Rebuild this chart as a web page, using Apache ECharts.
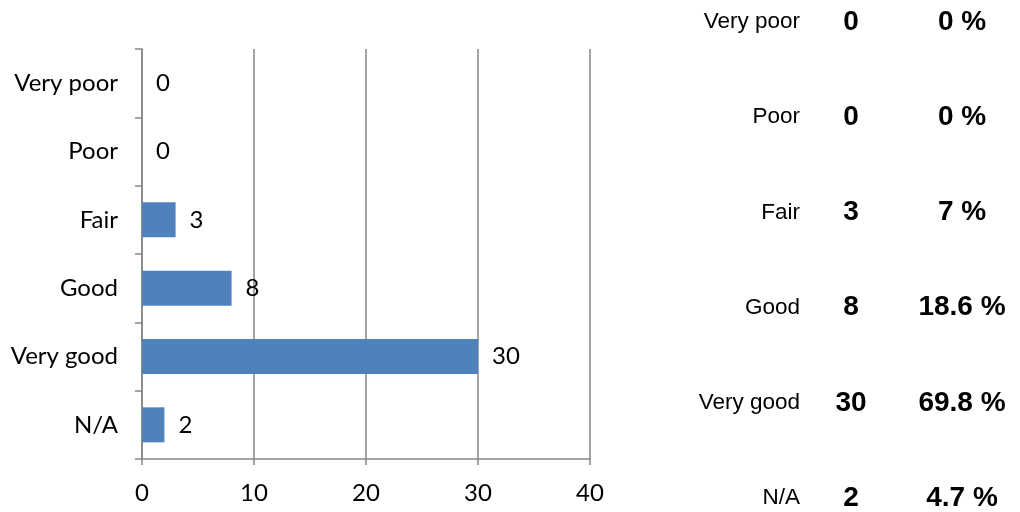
<!DOCTYPE html>
<html>
<head>
<meta charset="utf-8">
<script src="https://cdn.jsdelivr.net/npm/echarts@6/dist/echarts.min.js"></script>
<style>
html,body{margin:0;padding:0;background:#fff;}
#chart{width:1020px;height:512px;}
</style>
</head>
<body>
<div id="chart"></div>
<script>
var categories = ['Very poor', 'Poor', 'Fair', 'Good', 'Very good', 'N/A'];
var counts = [0, 0, 3, 8, 30, 2];
var percents = [0, 0, 7, 18.6, 69.8, 4.7];
var xTicks = [0, 10, 20, 30, 40];

var chartFont = 'Lato';
var tableFont = '"Liberation Sans", Arial, sans-serif';

var graphics = [];
var rowTop = 22, rowStep = 95.2;
for (var i = 0; i < categories.length; i++) {
  var y = rowTop + i * rowStep;
  graphics.push({
    type: 'text', x: 800, y: y,
    style: { text: categories[i], font: '22.5px ' + tableFont, fill: '#000', textAlign: 'right', textVerticalAlign: 'middle' }
  });
  graphics.push({
    type: 'text', x: 851, y: y,
    style: { text: String(counts[i]), font: 'bold 28px ' + tableFont, fill: '#000', textAlign: 'center', textVerticalAlign: 'middle' }
  });
  graphics.push({
    type: 'text', x: 962, y: y,
    style: { text: percents[i] + ' %', font: 'bold 28px ' + tableFont, fill: '#000', textAlign: 'center', textVerticalAlign: 'middle' }
  });
}

var chart = echarts.init(document.getElementById('chart'), null, { renderer: 'canvas' });
chart.setOption({
  animation: false,
  backgroundColor: '#fff',
  grid: { left: 142, right: 430, top: 49, bottom: 53, containLabel: false },
  xAxis: {
    type: 'value', min: xTicks[0], max: xTicks[xTicks.length - 1], interval: 10,
    axisLine: { show: true, lineStyle: { color: '#868686', width: 1.5 } },
    axisTick: { show: true, length: 6, lineStyle: { color: '#868686', width: 1.5 } },
    splitLine: { show: true, lineStyle: { color: '#868686', width: 1.5 } },
    axisLabel: { color: '#000', fontFamily: chartFont, fontSize: 24, margin: 22 }
  },
  yAxis: {
    type: 'category', data: categories, inverse: true,
    axisLine: { show: true, lineStyle: { color: '#868686', width: 1.5 } },
    axisTick: { show: true, length: 7, lineStyle: { color: '#868686', width: 1.5 } },
    axisLabel: { color: '#000', fontFamily: chartFont, fontSize: 24, margin: 24 }
  },
  series: [{
    type: 'bar', data: counts, barWidth: 35,
    itemStyle: { color: '#4F81BD' },
    label: { show: true, position: 'right', distance: 14, color: '#000', fontFamily: chartFont, fontSize: 24 }
  }],
  graphic: graphics
});
</script>
</body>
</html>
